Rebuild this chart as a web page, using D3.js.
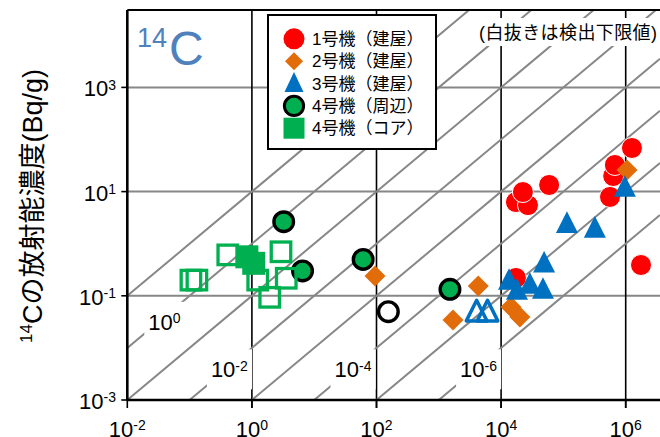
<!DOCTYPE html>
<html><head><meta charset="utf-8">
<script src="https://cdn.jsdelivr.net/npm/d3@7"></script>
<style>
html,body{margin:0;padding:0;background:#fff;}
svg{display:block;}
</style></head>
<body>
<svg id="chart" width="660" height="437"></svg>
<script>
// ---------------- data ----------------
const xTickValues = [1e-2, 1e0, 1e2, 1e4, 1e6];
const xTickExponents = ["-2", "0", "2", "4", "6"];
const yTickValues = [1e-3, 1e-1, 1e1, 1e3];
const yTickExponents = ["-3", "-1", "1", "3"];
const ratioExponents = [1, 0, -1, -2, -3, -4, -5, -6];
const ratioLabelExponents = [0, -2, -4, -6];

const seriesNames = ["1号機（建屋）", "2号機（建屋）", "3号機（建屋）", "4号機（周辺）", "4号機（コア）"];

const unit1X = [1.73e4, 2.7e4, 2.24e4, 5.9e4, 5.6e5, 6.3e5, 6.7e5, 1.26e6, 1.76e6, 1.73e4];
const unit1Y = [6.3, 5.5, 9.8, 13.4, 7.9, 19.9, 32.4, 68.7, 0.39, 0.22];

const unit2X = [94.6, 4.3e3, 1.69e3, 1.44e4, 2.0e4, 1.05e6];
const unit2Y = [0.24, 0.154, 0.0344, 0.061, 0.039, 26];

const unit3X = [9.7e5, 1.14e5, 3.2e5, 4.9e4, 1.34e4, 2.9e4, 4.7e4, 1.8e4];
const unit3Y = [12.8, 2.6, 2.1, 0.45, 0.21, 0.176, 0.141, 0.135];
const unit3LimX = [4.05e3, 6.05e3];
const unit3LimY = [0.052, 0.052];

const unit4X = [3.24, 6.5, 61, 1.51e3];
const unit4Y = [2.64, 0.30, 0.50, 0.133];
const unit4LimX = [155];
const unit4LimY = [0.0495];

const coreLimX = [0.105, 0.131, 0.41, 2.93, 1.24, 3.56, 1.93];
const coreLimY = [0.20, 0.20, 0.61, 0.70, 0.20, 0.217, 0.0935];
const coreX = [0.83, 1.07];
const coreY = [0.56, 0.42];

// ---------------- layout ----------------
const plot = {left: 127.3, right: 660, top: 10, bottom: 400};
const pxPerDecadeX = 62.3, pxPerDecadeY = 52.1;
const xMaxLog = -2 + (plot.right - plot.left) / pxPerDecadeX;
const yMaxLog = -3 + (plot.bottom - plot.top) / pxPerDecadeY;

const x = d3.scaleLog().domain([1e-2, Math.pow(10, xMaxLog)]).range([plot.left, plot.right]);
const y = d3.scaleLog().domain([1e-3, Math.pow(10, yMaxLog)]).range([plot.bottom, plot.top]);

const C = {red: "#ff0000", orange: "#e36c0a", blue: "#0070c0", green: "#00b050", gray: "#878787", label: "#4f81bd"};
const numFont = "'Liberation Sans', Arial, sans-serif";
const jpFont = "'Liberation Sans', 'Noto Sans CJK JP', sans-serif";

const svg = d3.select("#chart");
svg.append("rect").attr("width", 660).attr("height", 437).attr("fill", "#fff");

// horizontal grid (gray)
svg.append("g").selectAll("line").data(yTickValues.slice(1)).join("line")
  .attr("x1", plot.left).attr("x2", plot.right)
  .attr("y1", d => y(d)).attr("y2", d => y(d))
  .attr("stroke", C.gray).attr("stroke-width", 2);

// vertical grid (black)
svg.append("g").selectAll("line").data(xTickValues.slice(1)).join("line")
  .attr("x1", d => x(d)).attr("x2", d => x(d))
  .attr("y1", plot.top).attr("y2", plot.bottom + 8)
  .attr("stroke", "#000").attr("stroke-width", 1.6);

// diagonal ratio lines  y = 10^k * x
const [lx0, lx1] = [-2, xMaxLog], [ly0, ly1] = [-3, yMaxLog];
svg.append("g").selectAll("line").data(ratioExponents).join("line")
  .each(function(k) {
    const s = Math.max(lx0, ly0 - k), e = Math.min(lx1, ly1 - k);
    d3.select(this)
      .attr("x1", x(Math.pow(10, s))).attr("y1", y(Math.pow(10, s + k)))
      .attr("x2", x(Math.pow(10, e))).attr("y2", y(Math.pow(10, e + k)));
  })
  .attr("stroke", C.gray).attr("stroke-width", 2);

// exponent text helper
function expText(sel, base, exp, size, supSize) {
  sel.append("tspan").text(base).attr("font-size", size);
  sel.append("tspan").text(exp).attr("font-size", supSize).attr("dy", -size * 0.3);
}

// ratio labels with white boxes
const ratioLabelLayout = {"0": {ly: -1.5, dx: 6}, "-2": {ly: -2.41, dx: 3}, "-4": {ly: -2.41, dx: 2}, "-6": {ly: -2.41, dx: 3}};
const rl = svg.append("g");
ratioLabelExponents.forEach(k => {
  const L = ratioLabelLayout[String(k)];
  const cx = x(Math.pow(10, L.ly - k)) + L.dx, cy = y(Math.pow(10, L.ly));
  const g = rl.append("g");
  const r = g.append("rect").attr("fill", "#fff");
  const t = g.append("text").attr("x", cx).attr("y", cy + 8)
    .attr("text-anchor", "middle").attr("font-family", numFont).attr("fill", "#000");
  expText(t, "10", String(k), 22, 14);
  const bb = t.node().getBBox();
  r.attr("x", bb.x - 4).attr("y", cy - 20).attr("width", bb.width + 8).attr("height", 40);
});

// axes
svg.append("line").attr("x1", plot.left).attr("x2", plot.right).attr("y1", plot.bottom).attr("y2", plot.bottom)
  .attr("stroke", "#000").attr("stroke-width", 2.6);
svg.append("line").attr("x1", plot.left).attr("x2", plot.left).attr("y1", plot.top).attr("y2", plot.bottom)
  .attr("stroke", "#000").attr("stroke-width", 2.6);
svg.append("line").attr("x1", plot.left).attr("x2", plot.right).attr("y1", plot.top).attr("y2", plot.top)
  .attr("stroke", "#000").attr("stroke-width", 2);

// ticks
svg.append("g").selectAll("line").data(xTickValues).join("line")
  .attr("x1", d => x(d)).attr("x2", d => x(d)).attr("y1", plot.bottom).attr("y2", plot.bottom + 8)
  .attr("stroke", "#000").attr("stroke-width", 1.6);
svg.append("g").selectAll("line").data(yTickValues).join("line")
  .attr("x1", plot.left - 6).attr("x2", plot.left).attr("y1", d => y(d)).attr("y2", d => y(d))
  .attr("stroke", "#000").attr("stroke-width", 1.6);

// tick labels
xTickValues.forEach((v, i) => {
  const t = svg.append("text").attr("x", x(v)).attr("y", 436.5).attr("text-anchor", "middle")
    .attr("font-family", numFont).attr("fill", "#000");
  expText(t, "10", xTickExponents[i], 22, 14);
});
yTickValues.forEach((v, i) => {
  const t = svg.append("text").attr("x", 116).attr("y", y(v) + 9).attr("text-anchor", "end")
    .attr("font-family", numFont).attr("fill", "#000");
  expText(t, "10", yTickExponents[i], 22, 14);
});

// y axis title
const yt = svg.append("text").attr("transform", "translate(42,206) rotate(-90)")
  .attr("text-anchor", "middle").attr("font-family", jpFont).attr("fill", "#000").attr("font-size", 27);
yt.append("tspan").text("14").attr("font-size", 17).attr("dy", -10);
yt.append("tspan").text("Cの放射能濃度(Bq/g)").attr("dy", 10);

// 14C label
const cl = svg.append("text").attr("x", 137).attr("y", 65).attr("font-family", numFont).attr("fill", C.label);
cl.append("tspan").text("14").attr("font-size", 27).attr("dy", -18);
cl.append("tspan").text("C").attr("font-size", 48).attr("dy", 18).attr("dx", 2);

// note
svg.append("rect").attr("x", 470).attr("y", 18).attr("width", 190).attr("height", 28).attr("fill", "#fff");
svg.append("text").attr("x", 479).attr("y", 38.5).attr("font-family", jpFont).attr("font-size", 18)
  .attr("letter-spacing", 0.4).attr("fill", "#000").text("(白抜きは検出下限値)");

// ---------------- markers ----------------
function pts(xs, ys) { return xs.map((v, i) => ({x: v, y: ys[i]})); }
const diamondPath = "M0,-10.5L10.5,0L0,10.5L-10.5,0Z";
const triPath = "M0,-10.8L11,10.8L-11,10.8Z";
const triOpenPath = "M0,-10.3L10.3,10.3L-10.3,10.3Z";
const mk = svg.append("g");

function drawCircles(data, r, fill, stroke, sw) {
  mk.append("g").selectAll("circle").data(data).join("circle")
    .attr("cx", d => x(d.x)).attr("cy", d => y(d.y)).attr("r", r)
    .attr("fill", fill).attr("stroke", stroke).attr("stroke-width", sw);
}
function drawPaths(data, path, fill, stroke, sw) {
  mk.append("g").selectAll("path").data(data).join("path")
    .attr("transform", d => `translate(${x(d.x)},${y(d.y)})`).attr("d", path)
    .attr("fill", fill).attr("stroke", stroke).attr("stroke-width", sw).attr("stroke-linejoin", "round");
}
function drawSquares(data, s, fill, stroke, sw) {
  mk.append("g").selectAll("rect").data(data).join("rect")
    .attr("x", d => x(d.x) - s / 2).attr("y", d => y(d.y) - s / 2).attr("width", s).attr("height", s)
    .attr("fill", fill).attr("stroke", stroke).attr("stroke-width", sw);
}

drawCircles(pts(unit1X, unit1Y), 10.5, C.red, "#fff", 1);
drawPaths(pts(unit2X, unit2Y), diamondPath, C.orange, "none", 0);
drawPaths(pts(unit3X, unit3Y), triPath, C.blue, "none", 0);
drawPaths(pts(unit3LimX, unit3LimY), triOpenPath, "none", C.blue, 3.5);
drawCircles(pts(unit4X, unit4Y), 9.8, C.green, "#000", 3.4);
drawCircles(pts(unit4LimX, unit4LimY), 9.8, "none", "#000", 3.4);
drawSquares(pts(coreLimX, coreLimY), 19.5, "none", C.green, 3.3);
drawSquares(pts(coreX, coreY), 23, C.green, "none", 0);

// ---------------- legend ----------------
const lg = svg.append("g");
lg.append("rect").attr("x", 268).attr("y", 15).attr("width", 168).attr("height", 134)
  .attr("fill", "#fff").attr("stroke", "#000").attr("stroke-width", 2);
const legendRows = [38.8, 61.2, 83.6, 105.9, 128.2];
const legendX = 294;
lg.append("circle").attr("cx", legendX).attr("cy", legendRows[0]).attr("r", 10.5).attr("fill", C.red);
lg.append("path").attr("transform", `translate(${legendX},${legendRows[1]})`).attr("d", "M0,-9L9,0L0,9L-9,0Z").attr("fill", C.orange);
lg.append("path").attr("transform", `translate(${legendX},${legendRows[2] - 1.5})`).attr("d", "M0,-10L9.5,10L-9.5,10Z").attr("fill", C.blue);
lg.append("circle").attr("cx", legendX).attr("cy", legendRows[3]).attr("r", 9.6).attr("fill", C.green).attr("stroke", "#000").attr("stroke-width", 3);
lg.append("rect").attr("x", legendX - 10.5).attr("y", legendRows[4] - 10.5).attr("width", 21).attr("height", 21).attr("fill", C.green);
seriesNames.forEach((n, i) => {
  lg.append("text").attr("x", 312).attr("y", legendRows[i] + 6).attr("font-family", jpFont)
    .attr("font-size", 17).attr("fill", "#000").text(n);
});
</script>
</body></html>
